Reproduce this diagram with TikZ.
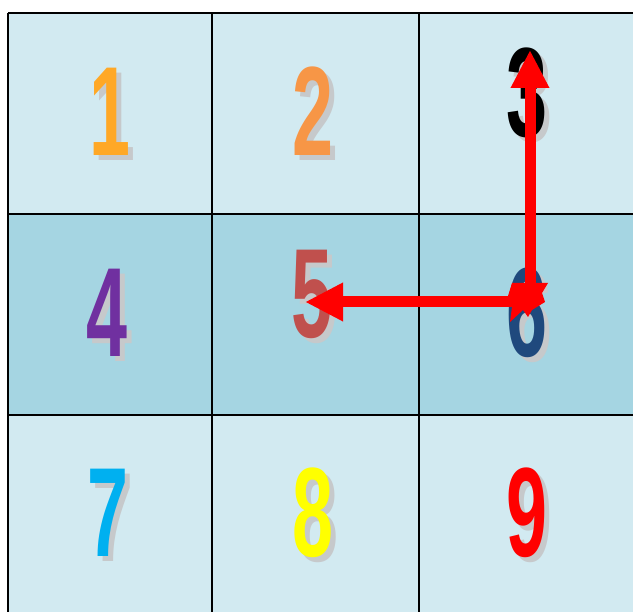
\documentclass[tikz,border=0pt]{standalone}
\usepackage{fontspec}
\setmainfont{Liberation Sans}
\usetikzlibrary{arrows.meta}
\definecolor{cellA}{HTML}{D2EAF1}
\definecolor{cellB}{HTML}{A5D5E2}
\definecolor{shad}{HTML}{C6C9CB}
\definecolor{cOne}{HTML}{FFA826}
\definecolor{cTwo}{HTML}{F79646}
\definecolor{cFour}{HTML}{7030A0}
\definecolor{cFive}{HTML}{C0504D}
\definecolor{cSix}{HTML}{1F497D}
\definecolor{cSeven}{HTML}{00B0F0}
\definecolor{cEight}{HTML}{FFFF00}
\definecolor{cNine}{HTML}{FF0000}
\newcommand{\bigdigit}[1]{\scalebox{0.58}[1]{\fontsize{127}{127}\selectfont\bfseries #1}}
\tikzset{
  cellbox/.style={draw=black, line width=2pt},
  digitnode/.style={inner sep=0pt, anchor=base},
  shadownode/.style={inner sep=0pt, anchor=base, text=shad},
  redarrow/.style={draw=red, line width=11pt, -{Triangle[length=38pt,width=36pt]}},
}
\begin{document}
\begin{tikzpicture}[x=1pt,y=-1pt]
\useasboundingbox (0,0) rectangle (633,612);
\fill[white] (0,0) rectangle (633,612);
\begin{scope}
\clip (0,0) rectangle (633,612);
\fill[cellA] (8,13) rectangle (650,214);
\fill[cellB] (8,214) rectangle (650,415);
\fill[cellA] (8,415) rectangle (650,630);
\foreach \x in {8,212,419} \draw[cellbox] (\x,13) -- (\x,630);
\foreach \y in {13,214,415} \draw[cellbox] (8,\y) -- (650,\y);
\end{scope}
% digits with shadows
\node[shadownode] (s1) at (115,161) {\bigdigit{1}};
\node[digitnode, text=cOne] (d1) at (110,156) {\bigdigit{1}};
\node[shadownode] (s2) at (318,161) {\bigdigit{2}};
\node[digitnode, text=cTwo] (d2) at (313,156) {\bigdigit{2}};
\node[shadownode] (s3) at (532,142) {\bigdigit{3}};
\node[digitnode, text=black] (d3) at (527,137) {\bigdigit{3}};
\node[shadownode] (s4) at (112,362) {\bigdigit{4}};
\node[digitnode, text=cFour] (d4) at (107,357) {\bigdigit{4}};
\node[shadownode] (s5) at (317,343) {\bigdigit{5}};
\node[digitnode, text=cFive] (d5) at (312,338) {\bigdigit{5}};
\node[shadownode] (s6) at (532,362) {\bigdigit{6}};
\node[digitnode, text=cSix] (d6) at (527,357) {\bigdigit{6}};
\node[shadownode] (s7) at (113,562) {\bigdigit{7}};
\node[digitnode, text=cSeven] (d7) at (108,557) {\bigdigit{7}};
\node[shadownode] (s8) at (318,562) {\bigdigit{8}};
\node[digitnode, text=cEight] (d8) at (313,557) {\bigdigit{8}};
\node[shadownode] (s9) at (532,562) {\bigdigit{9}};
\node[digitnode, text=cNine] (d9) at (527,557) {\bigdigit{9}};
% arrows
\coordinate (a6) at (530,302);
\coordinate (a3) at (530,50);
\coordinate (a5) at (305,302);
\draw[redarrow] (a6) -- (a3);
\draw[redarrow] (a6) -- (a5);
\fill[red] (512,283) -- (548,283) -- (542,293) -- (545,302) -- (532,310) -- (528,317) -- (523,310) -- (510,322) -- (512,307) -- (508,296) -- cycle;
\end{tikzpicture}
\end{document}
